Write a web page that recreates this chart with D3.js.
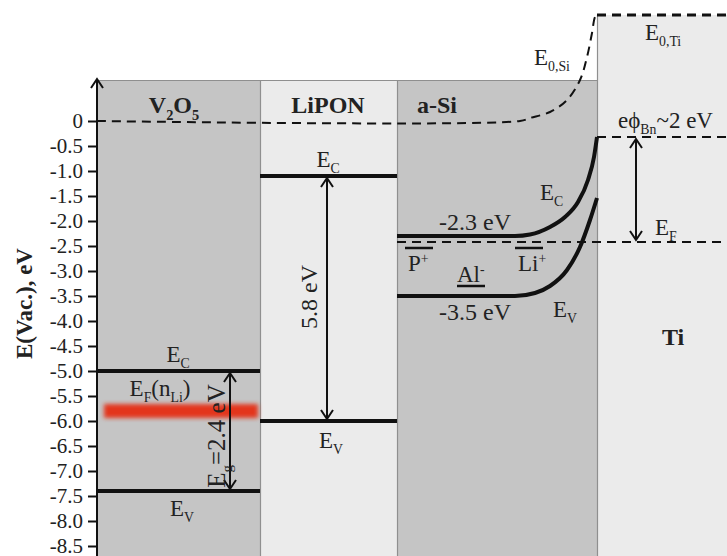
<!DOCTYPE html>
<html><head><meta charset="utf-8">
<script src="https://cdn.jsdelivr.net/npm/d3@7"></script>
<style>
body{margin:0;background:#fff}
text{font-family:"Liberation Serif","Times New Roman",serif;fill:#222}
</style>
</head><body>
<svg id="c" width="727" height="556"></svg>
<script>
// ---------- data ----------
const layerNames = ["V2O5", "LiPON", "a-Si", "Ti"];
const layerStart = [0, 163, 300, 500];      // position units along the stack
const layerEnd   = [163, 300, 500, 630];
const layerTop   = [0.82, 0.82, 0.82, 2.12]; // eV
const layerShade = ["dark", "light", "dark", "light"];

const energyTicks = [0, -0.5, -1.0, -1.5, -2.0, -2.5, -3.0, -3.5, -4.0, -4.5,
                     -5.0, -5.5, -6.0, -6.5, -7.0, -7.5, -8.0, -8.5];

const v2o5Ec = -5.0, v2o5Ev = -7.4, v2o5Ef = -5.8;
const liponEc = -1.1, liponEv = -6.0;

const aSiEcPos = [300, 418, 433, 453, 468, 481, 491, 497, 500];
const aSiEcE   = [-2.3, -2.3, -2.27, -2.12, -1.92, -1.62, -1.18, -0.72, -0.32];
const aSiEvPos = [300, 418, 438, 453, 470, 483, 493, 500];
const aSiEvE   = [-3.5, -3.5, -3.44, -3.3, -2.98, -2.52, -1.98, -1.54];
const vacPos   = [0, 423, 433, 453, 470, 483, 490, 495, 498, 500];
const vacE     = [0, 0, 0.06, 0.18, 0.42, 0.82, 1.28, 1.76, 2.08, 2.12];

const tiVacuum = 2.12, tiBarrier = -0.32, fermiLevel = -2.42;

// ---------- scales ----------
const svg = d3.select("#c");
const x = d3.scaleLinear().domain([0, 630]).range([97, 727]);
const y = d3.scaleLinear().domain([0, -8.5]).range([121, 546]);
const yBottom = -8.8;

const DARK = "#c5c5c5", LIGHT = "#ebebeb", EDGE = "#8f8f8f";

// ---------- layer boxes ----------
layerNames.forEach((n, i) => {
  svg.append("rect")
    .attr("x", x(layerStart[i])).attr("y", y(layerTop[i]))
    .attr("width", x(layerEnd[i]) - x(layerStart[i]))
    .attr("height", y(yBottom) - y(layerTop[i]))
    .attr("fill", layerShade[i] === "dark" ? DARK : LIGHT);
});
[0, 1, 2].forEach(i => {
  svg.append("line").attr("x1", x(layerStart[i])).attr("x2", x(layerEnd[i]))
    .attr("y1", y(layerTop[i]) + 0.5).attr("y2", y(layerTop[i]) + 0.5)
    .attr("stroke", EDGE).attr("stroke-width", 1.2);
});
[1, 2, 3].forEach(i => {
  svg.append("line").attr("x1", x(layerStart[i]) + 0.5).attr("x2", x(layerStart[i]) + 0.5)
    .attr("y1", y(Math.max(layerTop[i], layerTop[i - 1]))).attr("y2", y(yBottom))
    .attr("stroke", EDGE).attr("stroke-width", 1.2);
});

// ---------- red Fermi band in V2O5 ----------
const defs = svg.append("defs");
defs.append("filter").attr("id", "blur").attr("x", "-10%").attr("y", "-100%")
  .attr("width", "120%").attr("height", "300%")
  .append("feGaussianBlur").attr("stdDeviation", 2.2);
svg.append("rect")
  .attr("x", x(7)).attr("width", x(161) - x(7))
  .attr("y", y(v2o5Ef) - 7).attr("height", 14)
  .attr("fill", "#e3361a").attr("filter", "url(#blur)");

// ---------- dashed lines ----------
const dash = "9,6";
const line = d3.line().x(d => x(d[0])).y(d => y(d[1])).curve(d3.curveMonotoneX);
svg.append("path").datum(vacPos.map((p, i) => [p, vacE[i]]))
  .attr("d", d3.line().x(d => x(d[0])).y(d => y(d[1])).curve(d3.curveCatmullRom.alpha(0.5)))
  .attr("fill", "none").attr("stroke", "#111").attr("stroke-width", 2).attr("stroke-dasharray", dash);
svg.append("line").attr("x1", x(layerStart[3])).attr("x2", x(layerEnd[3]))
  .attr("y1", y(tiVacuum)).attr("y2", y(tiVacuum))
  .attr("stroke", "#111").attr("stroke-width", 3).attr("stroke-dasharray", dash);
svg.append("line").attr("x1", x(layerStart[3])).attr("x2", x(layerEnd[3]))
  .attr("y1", y(tiBarrier)).attr("y2", y(tiBarrier))
  .attr("stroke", "#111").attr("stroke-width", 2).attr("stroke-dasharray", dash);
svg.append("line").attr("x1", x(layerStart[2])).attr("x2", x(layerEnd[3]))
  .attr("y1", y(fermiLevel)).attr("y2", y(fermiLevel))
  .attr("stroke", "#111").attr("stroke-width", 2).attr("stroke-dasharray", dash);

// ---------- band edges ----------
const band = (x0, x1, e) => svg.append("line").attr("x1", x(x0)).attr("x2", x(x1))
  .attr("y1", y(e)).attr("y2", y(e)).attr("stroke", "#111").attr("stroke-width", 4);
band(layerStart[0], layerEnd[0], v2o5Ec);
band(layerStart[0], layerEnd[0], v2o5Ev);
band(layerStart[1], layerEnd[1], liponEc);
band(layerStart[1], layerEnd[1], liponEv);
svg.append("path").datum(aSiEcPos.map((p, i) => [p, aSiEcE[i]]))
  .attr("d", line).attr("fill", "none").attr("stroke", "#111").attr("stroke-width", 4);
svg.append("path").datum(aSiEvPos.map((p, i) => [p, aSiEvE[i]]))
  .attr("d", line).attr("fill", "none").attr("stroke", "#111").attr("stroke-width", 4);

// ---------- arrows ----------
function head(px, py, dir) {
  svg.append("path").attr("d", `M${px - 6},${py - dir * 9} L${px},${py} L${px + 6},${py - dir * 9}`)
    .attr("fill", "none").attr("stroke", "#111").attr("stroke-width", 2);
}
function dblArrow(pos, eTop, eBot) {
  const px = x(pos), y1 = y(eTop) + 2, y2 = y(eBot) - 2;
  svg.append("line").attr("x1", px).attr("x2", px).attr("y1", y1).attr("y2", y2)
    .attr("stroke", "#111").attr("stroke-width", 2);
  head(px, y1, -1); head(px, y2, 1);
}
dblArrow(133, v2o5Ec, v2o5Ev);
dblArrow(230, liponEc, liponEv);
dblArrow(539, tiBarrier, fermiLevel);

// ---------- axis ----------
const axis = d3.axisLeft(y).tickValues(energyTicks)
  .tickFormat(d => d === 0 ? "0" : d.toFixed(1)).tickSize(9).tickSizeOuter(0).tickPadding(5);
const ag = svg.append("g").attr("transform", `translate(${x(0)},0)`).call(axis);
ag.select(".domain").remove();
ag.selectAll(".tick line").attr("stroke", "#111").attr("stroke-width", 2);
ag.selectAll(".tick text").style("font-size", "21px").style("font-family", "Liberation Serif")
  .attr("fill", "#222").attr("dy", "0.3em");
svg.append("line").attr("x1", x(0)).attr("x2", x(0)).attr("y1", y(yBottom)).attr("y2", y(0.84))
  .attr("stroke", "#111").attr("stroke-width", 2);
head(x(0), y(0.84), -1);
svg.append("text").attr("transform", `translate(32,${y(-3.65)}) rotate(-90)`)
  .attr("text-anchor", "middle").style("font-size", "23px").style("font-weight", "bold")
  .text("E(Vac.), eV");

// ---------- labels ----------
function rich(px, py, parts, size, anchor, weight, rot) {
  const t = svg.append("text")
    .attr("transform", `translate(${px},${py})` + (rot ? ` rotate(${rot})` : ""))
    .attr("text-anchor", anchor || "start")
    .style("font-size", size + "px").style("font-weight", weight || "normal");
  let shift = 0;
  parts.forEach(([s, k]) => {
    const target = k === "sub" ? size * 0.28 : k === "sup" ? -size * 0.35 : 0;
    t.append("tspan").attr("dy", target - shift)
      .style("font-size", (k === "n" ? size : size * 0.6) + "px").text(s);
    shift = target;
  });
  return t;
}
const P = (pos, e) => [x(pos), y(e)];
const L = 23;
rich(...P(77, 0.16), [["V", "n"], ["2", "sub"], ["O", "n"], ["5", "sub"]], 24, "middle", "bold");
rich(...P(231, 0.16), [["LiPON", "n"]], 24, "middle", "bold");
rich(...P(340, 0.16), [["a-Si", "n"]], 24, "middle", "bold");
rich(...P(576, -4.48), [["Ti", "n"]], 24, "middle", "bold");

rich(...P(81, -4.82), [["E", "n"], ["C", "sub"]], L, "middle");
rich(...P(85, -7.9), [["E", "n"], ["V", "sub"]], L, "middle");
rich(...P(63, -5.5), [["E", "n"], ["F", "sub"], ["(n", "n"], ["Li", "sub"], [")", "n"]], L, "middle");
rich(...P(128, -6.3), [["E", "n"], ["g", "sub"], ["=2.4 eV", "n"]], 25, "middle", "normal", -90);

rich(...P(231, -0.92), [["E", "n"], ["C", "sub"]], L, "middle");
rich(...P(234, -6.54), [["E", "n"], ["V", "sub"]], L, "middle");
rich(...P(220, -3.52), [["5.8 eV", "n"]], 24, "middle", "normal", -90);

rich(...P(378, -2.18), [["-2.3 eV", "n"]], 24, "middle");
rich(...P(443, -1.58), [["E", "n"], ["C", "sub"]], L, "start");
rich(...P(311, -3.0), [["P", "n"], ["+", "sup"]], L, "start");
rich(...P(421, -3.0), [["Li", "n"], ["+", "sup"]], L, "start");
rich(...P(360, -3.22), [["Al", "n"], ["-", "sup"]], L, "start");
rich(...P(378, -3.98), [["-3.5 eV", "n"]], 24, "middle");
rich(...P(456, -3.92), [["E", "n"], ["V", "sub"]], L, "start");

rich(...P(437, 1.12), [["E", "n"], ["0,Si", "sub"]], L, "start");
rich(...P(548, 1.62), [["E", "n"], ["0,Ti", "sub"]], L, "start");
rich(...P(521, -0.14), [["eϕ", "n"], ["Bn", "sub"], ["~2 eV", "n"]], 23, "start");
rich(...P(558, -2.28), [["E", "n"], ["F", "sub"]], L, "start");

// dopant level marks
const mark = (p0, p1, e) => svg.append("line").attr("x1", x(p0)).attr("x2", x(p1))
  .attr("y1", y(e)).attr("y2", y(e)).attr("stroke", "#111").attr("stroke-width", 2.5);
mark(308, 336, -2.54);
mark(418, 446, -2.54);
mark(360, 388, -3.3);
</script>
</body></html>
